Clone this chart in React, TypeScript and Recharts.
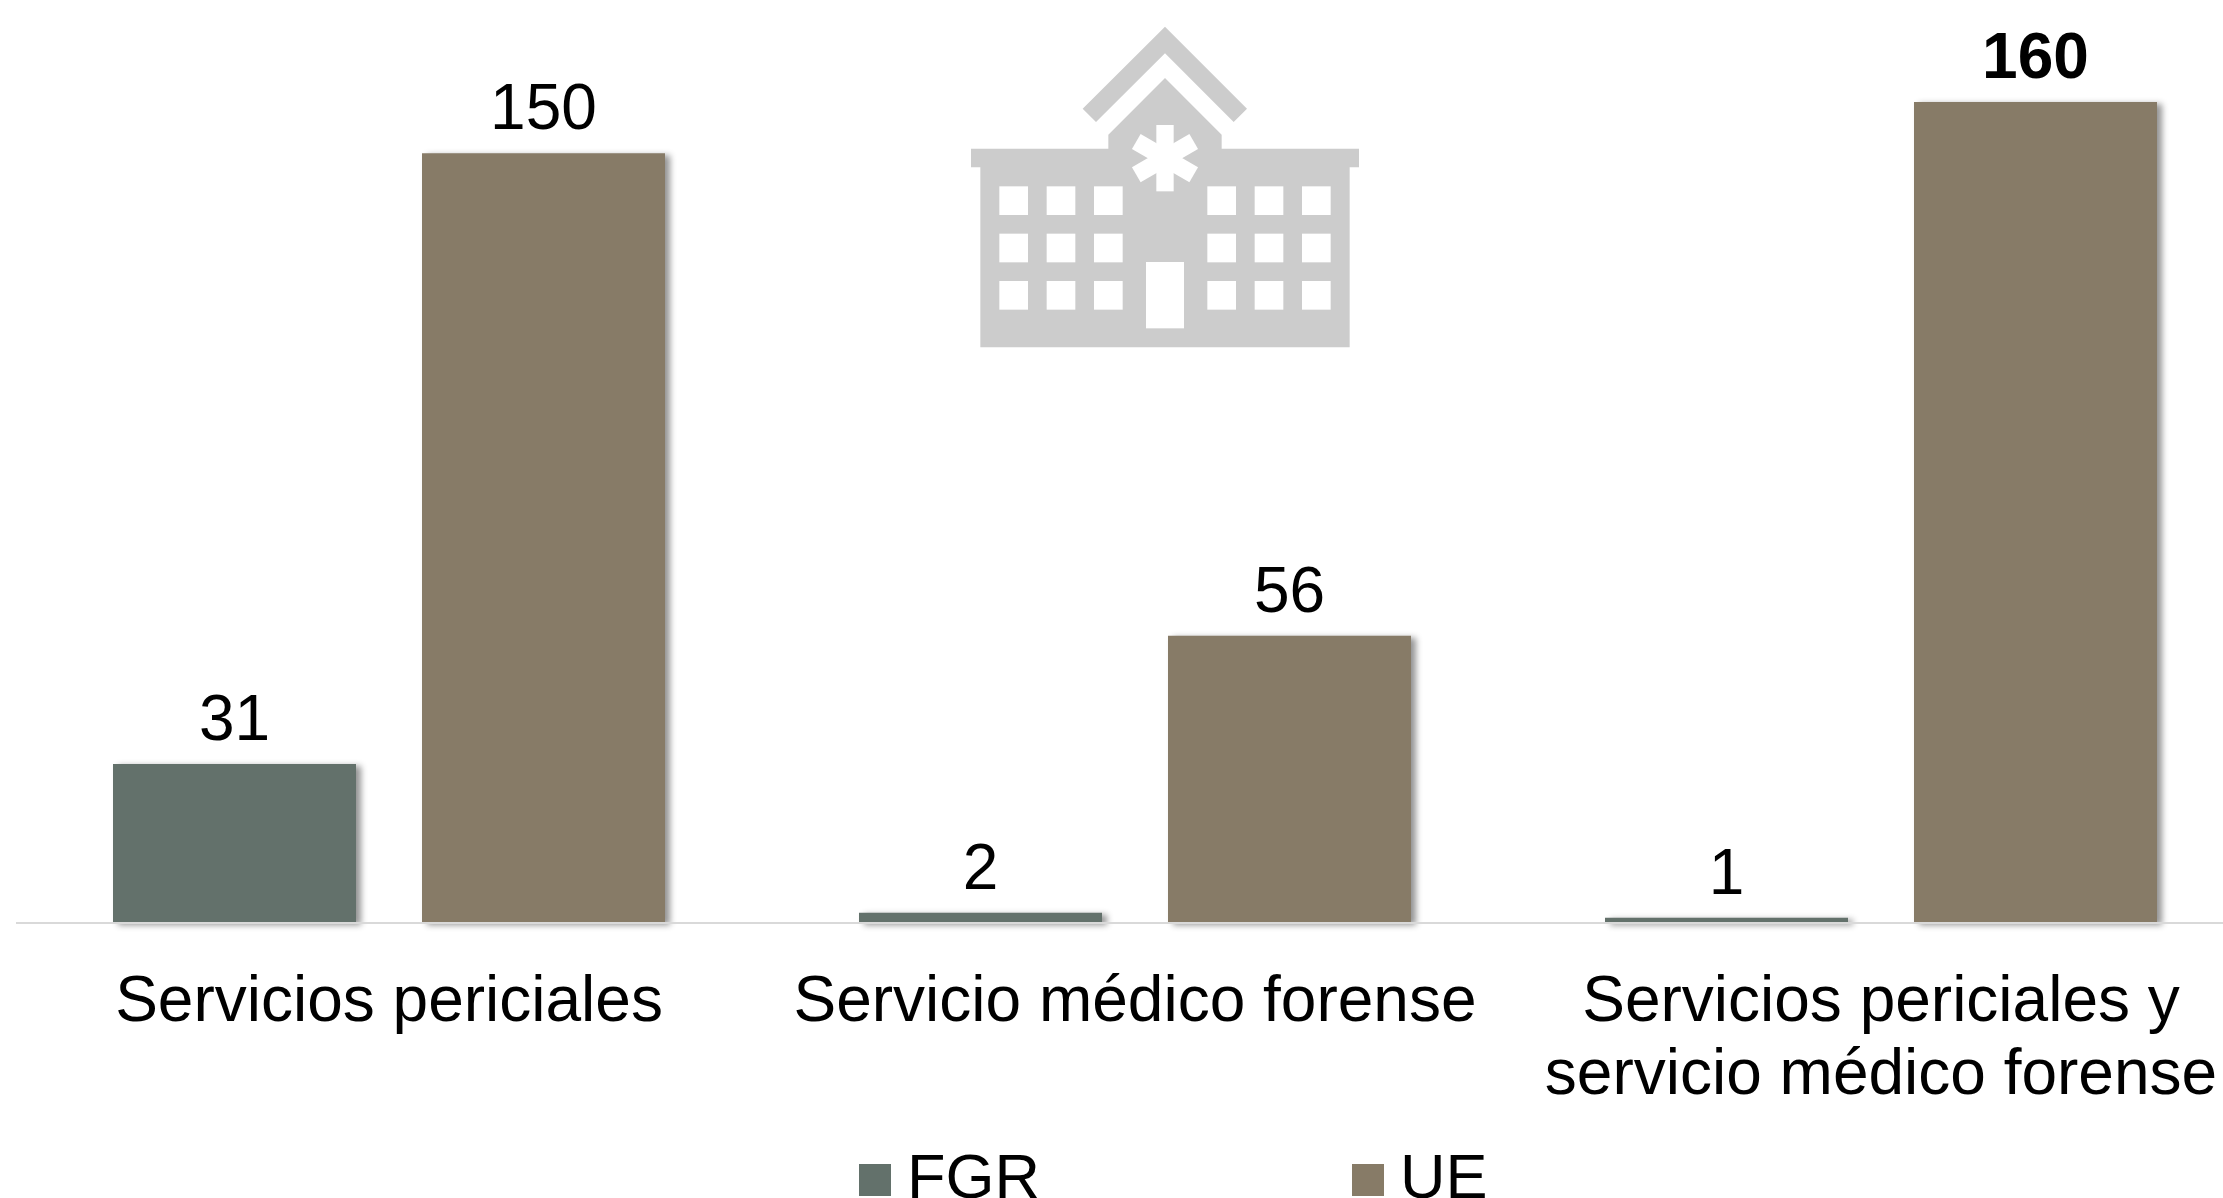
import React from "react";
import { BarChart, Bar, XAxis, YAxis, LabelList, Legend, Rectangle } from "recharts";

const categories = ["Servicios periciales", "Servicio médico forense", "Servicios periciales y\nservicio médico forense"];
const fgrValues = [31, 2, 1];
const ueValues = [150, 56, 160];
const boldLabels = [160];
const data = categories.map((c, i) => ({ category: c, FGR: fgrValues[i], UE: ueValues[i] }));

const FONT = "'Liberation Sans', Arial, sans-serif";
const FS = 64;
const FGR_COLOR = "#63716B";
const UE_COLOR = "#877B67";

const BarShape = (props: any) => (
  <Rectangle {...props} style={{ filter: "drop-shadow(5px 2px 3px rgba(0,0,0,0.42))" }} />
);

const ValueLabel = (props: any) => {
  const { x, y, width, value } = props;
  return (
    <text x={x + width / 2} y={y - 24} textAnchor="middle" fontFamily={FONT} fontSize={FS} fill="#000"
      fontWeight={boldLabels.includes(value) ? 700 : 400}>
      {value}
    </text>
  );
};

const CategoryTick = (props: any) => {
  const { x, y, payload } = props;
  const lines = String(payload.value).split("\n");
  return (
    <text x={x} y={y} textAnchor="middle" fontFamily={FONT} fontSize={FS} fill="#000">
      {lines.map((l: string, i: number) => (
        <tspan key={i} x={x} y={y + 90 + i * 73}>{l}</tspan>
      ))}
    </text>
  );
};

const LegendContent = (props: any) => {
  const xs = [859, 1352];
  return (
    <div style={{ position: "relative", width: 2223, height: 68 }}>
      {(props.payload || []).map((p: any, i: number) => (
        <React.Fragment key={p.value}>
          <div style={{ position: "absolute", left: xs[i], top: 34, width: 32, height: 32, background: p.color }} />
          <div style={{ position: "absolute", left: xs[i] + 48, top: 12, fontFamily: FONT, fontSize: 63, lineHeight: "69px", color: "#000" }}>
            {p.value}
          </div>
        </React.Fragment>
      ))}
    </div>
  );
};

const Building = () => {
  const winX = [178, 320, 462, 802, 944, 1086];
  const winY = [559, 701, 843];
  return (
    <svg width={450} height={370} viewBox="0 0 1350 1110" style={{ position: "absolute", left: 940, top: 0 }}>
      <path fill="#CCCCCC" d="M675 80L921 326L881 366L675 160L468 366L428 326Z" />
      <path fill="#CCCCCC" d="M505 446V404L675 234L845 404V446H1257V502H1229V1042H121V502H93V446Z" />
      {winX.map((x) => winY.map((y) => <rect key={`${x}-${y}`} x={x} y={y} width={86} height={86} fill="#fff" />))}
      <rect x={618} y={786} width={114} height={199} fill="#fff" />
      {[0, 60, -60].map((a) => (
        <rect key={a} x={649} y={375} width={52} height={199} fill="#fff" transform={`rotate(${a} 675 474.5)`} />
      ))}
    </svg>
  );
};

export default function App() {
  return (
    <div style={{ position: "fixed", left: 0, top: 0, width: 2223, height: 1198, overflow: "hidden", background: "#fff" }}>
      <BarChart width={2270} height={1198} data={data} barSize={243} barGap={66}
        margin={{ top: 102, right: 16, bottom: 0, left: 16 }}>
        <XAxis dataKey="category" interval={0} tickLine={false} axisLine={{ stroke: "#D9D9D9", strokeWidth: 2 }}
          tick={<CategoryTick />} height={275} />
        <YAxis hide domain={[0, 160]} width={0} />
        <Legend verticalAlign="middle" layout="horizontal" content={<LegendContent />}
          wrapperStyle={{ left: 0, top: 1130, width: 2223, height: 68, bottom: "auto", margin: 0 }} />
        <Bar dataKey="FGR" fill={FGR_COLOR} isAnimationActive={false} shape={<BarShape />}>
          <LabelList dataKey="FGR" content={<ValueLabel />} />
        </Bar>
        <Bar dataKey="UE" fill={UE_COLOR} isAnimationActive={false} shape={<BarShape />}>
          <LabelList dataKey="UE" content={<ValueLabel />} />
        </Bar>
      </BarChart>
      <Building />
    </div>
  );
}
